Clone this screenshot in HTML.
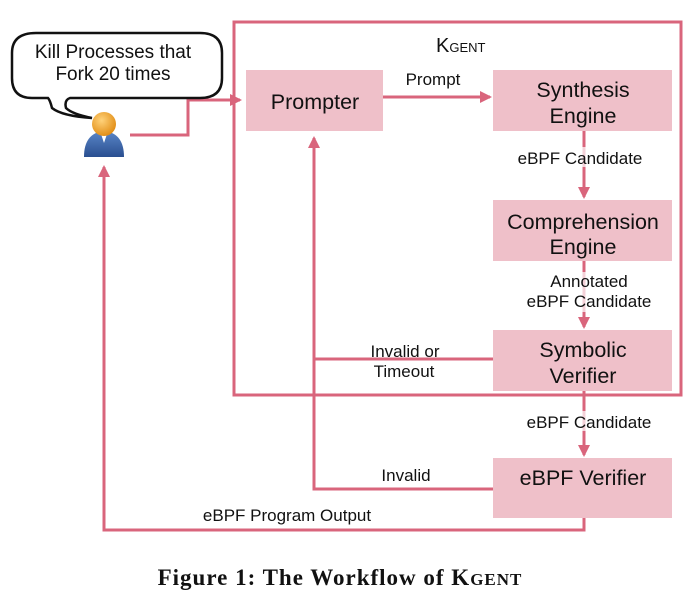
<!DOCTYPE html>
<html><head><style>
body{margin:0;background:#fff;width:694px;height:604px;overflow:hidden;}
svg text{font-family:"Liberation Sans",sans-serif;fill:#111;}
</style></head><body>
<svg width="694" height="604" viewBox="0 0 694 604" xmlns="http://www.w3.org/2000/svg">
<defs>
<marker id="b" markerWidth="12" markerHeight="12" refX="10" refY="6" orient="auto" markerUnits="userSpaceOnUse">
<path d="M0,0 L12,6 L0,12 z" fill="#d9657c"/></marker>
<radialGradient id="h" cx="0.4" cy="0.35" r="0.7"><stop offset="0" stop-color="#ffd27a"/><stop offset="1" stop-color="#e08a10"/></radialGradient>
<linearGradient id="bd" x1="0" y1="0" x2="0" y2="1"><stop offset="0" stop-color="#5a86c8"/><stop offset="1" stop-color="#2a4f90"/></linearGradient>
</defs>
<g fill="none" stroke="#d9657c" stroke-width="3">
<rect x="234" y="22" width="447" height="373"/>
<polyline points="130,135 188,135 188,100 240,100" marker-end="url(#b)"/>
<line x1="383" y1="97" x2="490" y2="97" marker-end="url(#b)"/>
<line x1="584" y1="131" x2="584" y2="197" marker-end="url(#b)"/>
<line x1="584" y1="261" x2="584" y2="327" marker-end="url(#b)"/>
<line x1="584" y1="391" x2="584" y2="455" marker-end="url(#b)"/>
<polyline points="493,359 314,359"/>
<polyline points="493,489 314,489 314,138" marker-end="url(#b)"/>
<polyline points="584,518 584,530 104,530 104,167" marker-end="url(#b)"/>
</g>
<g fill="#fff" opacity="0.7">
<rect x="516" y="147" width="128" height="20"/>
<rect x="524" y="272" width="130" height="40"/>
<rect x="524" y="411" width="130" height="20"/>
</g>
<g fill="#efc0c9">
<rect x="246" y="70" width="137" height="61"/>
<rect x="493" y="70" width="179" height="61"/>
<rect x="493" y="200" width="179" height="61"/>
<rect x="493" y="330" width="179" height="61"/>
<rect x="493" y="458" width="179" height="60"/>
</g>
<path d="M36,33 L200,33 Q222,33 222,53 L222,78 Q222,98 200,98 L70,98 Q64,100 66,108 Q72,114 92,118 Q62,116 52,108 Q50,100 48,98 L32,98 Q12,98 12,78 L12,53 Q12,33 36,33 z" fill="#fff" stroke="#111" stroke-width="2.5"/>
<text x="113" y="58" font-size="19" text-anchor="middle">Kill Processes that</text>
<text x="113" y="80" font-size="19" text-anchor="middle">Fork 20 times</text>
<path d="M84,157 Q84,133 104,131 Q124,133 124,157 z" fill="url(#bd)"/>
<path d="M100,131 L104,143 L108,131 z" fill="#fff"/>
<circle cx="104" cy="124" r="12" fill="url(#h)"/>
<text x="436" y="52" font-size="20">K<tspan font-size="13">GENT</tspan></text>
<text x="315" y="109" font-size="21.5" text-anchor="middle">Prompter</text>
<text x="433" y="85" font-size="17" text-anchor="middle">Prompt</text>
<text x="583" y="97" font-size="21.5" text-anchor="middle">Synthesis</text>
<text x="583" y="123" font-size="21.5" text-anchor="middle">Engine</text>
<text x="580" y="164" font-size="17" text-anchor="middle">eBPF Candidate</text>
<text x="583" y="229" font-size="21.5" text-anchor="middle">Comprehension</text>
<text x="583" y="254" font-size="21.5" text-anchor="middle">Engine</text>
<text x="589" y="287" font-size="17" text-anchor="middle">Annotated</text>
<text x="589" y="307" font-size="17" text-anchor="middle">eBPF Candidate</text>
<text x="583" y="357" font-size="21.5" text-anchor="middle">Symbolic</text>
<text x="583" y="383" font-size="21.5" text-anchor="middle">Verifier</text>
<text x="405" y="357" font-size="17" text-anchor="middle">Invalid or</text>
<text x="404" y="377" font-size="17" text-anchor="middle">Timeout</text>
<text x="589" y="428" font-size="17" text-anchor="middle">eBPF Candidate</text>
<text x="583" y="485" font-size="21.5" text-anchor="middle">eBPF Verifier</text>
<text x="406" y="481" font-size="17" text-anchor="middle">Invalid</text>
<text x="287" y="521" font-size="17" text-anchor="middle">eBPF Program Output</text>
<text x="340" y="585" font-size="23" font-weight="bold" letter-spacing="1" text-anchor="middle" style="font-family:'Liberation Serif',serif">Figure 1: The Workflow of K<tspan font-size="17">GENT</tspan></text>
</svg>
</body></html>
